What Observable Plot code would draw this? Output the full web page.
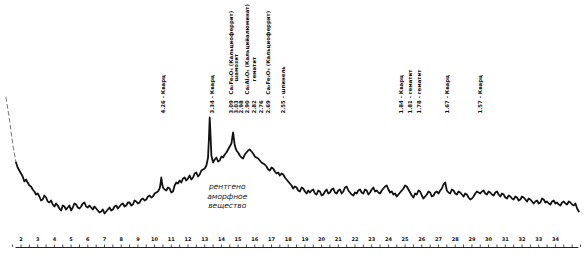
<!DOCTYPE html>
<html><head><meta charset="utf-8">
<script src="https://cdn.jsdelivr.net/npm/d3@7"></script>
<script src="https://cdn.jsdelivr.net/npm/@observablehq/plot@0.6"></script>
<style>body{margin:0;background:#fff}</style>
</head><body><div id="chart"></div>
<script>
// Diffraction angle θ (degrees) and relative intensity
const theta = [
1.1,1.3,1.5,1.7,1.8,1.9,2.0,2.1,2.2,2.3,
2.4,2.5,2.6,2.7,2.8,2.9,3.0,3.1,3.2,3.3,
3.4,3.5,3.6,3.7,3.8,3.9,4.0,4.1,4.2,4.3,
4.4,4.5,4.6,4.7,4.8,4.9,5.0,5.1,5.2,5.3,
5.4,5.5,5.6,5.7,5.8,5.9,6.0,6.1,6.2,6.3,
6.4,6.5,6.6,6.7,6.8,6.9,7.0,7.1,7.2,7.3,
7.4,7.5,7.6,7.7,7.8,7.9,8.0,8.1,8.2,8.3,
8.4,8.5,8.6,8.7,8.8,8.9,9.0,9.1,9.2,9.3,
9.4,9.5,9.6,9.7,9.8,9.9,10.0,10.1,10.2,10.3,
10.35,10.4,10.45,10.5,10.6,10.7,10.8,10.9,11.0,11.1,
11.2,11.3,11.4,11.5,11.6,11.7,11.8,11.9,12.0,12.1,
12.2,12.3,12.4,12.5,12.6,12.7,12.8,12.9,13.0,13.1,
13.2,13.25,13.3,13.35,13.4,13.5,13.6,13.7,13.8,13.9,
14.0,14.1,14.2,14.3,14.4,14.5,14.6,14.7,14.8,14.9,
15.0,15.1,15.2,15.3,15.4,15.5,15.6,15.7,15.8,15.9,
16.0,16.1,16.2,16.3,16.4,16.5,16.6,16.7,16.8,16.9,
17.0,17.1,17.2,17.3,17.4,17.5,17.6,17.7,17.8,17.9,
18.0,18.1,18.2,18.3,18.4,18.5,18.6,18.7,18.8,18.9,
19.0,19.1,19.2,19.3,19.4,19.5,19.6,19.7,19.8,19.9,
20.0,20.1,20.2,20.3,20.4,20.5,20.6,20.7,20.8,20.9,
21.0,21.1,21.2,21.3,21.4,21.5,21.6,21.7,21.8,21.9,
22.0,22.1,22.2,22.3,22.4,22.5,22.6,22.7,22.8,22.9,
23.0,23.1,23.2,23.3,23.4,23.5,23.6,23.7,23.8,23.9,
24.0,24.1,24.2,24.3,24.4,24.5,24.6,24.7,24.8,24.9,
25.0,25.1,25.2,25.3,25.4,25.5,25.6,25.7,25.8,25.9,
26.0,26.1,26.2,26.3,26.4,26.5,26.6,26.7,26.8,26.9,
27.0,27.1,27.2,27.3,27.4,27.5,27.6,27.7,27.8,27.9,
28.0,28.1,28.2,28.3,28.4,28.5,28.6,28.7,28.8,28.9,
29.0,29.1,29.2,29.3,29.4,29.5,29.6,29.7,29.8,29.9,
30.0,30.1,30.2,30.3,30.4,30.5,30.6,30.7,30.8,30.9,
31.0,31.1,31.2,31.3,31.4,31.5,31.6,31.7,31.8,31.9,
32.0,32.1,32.2,32.3,32.4,32.5,32.6,32.7,32.8,32.9,
33.0,33.1,33.2,33.3,33.4,33.5,33.6,33.7,33.8,33.9,
34.0,34.1,34.2,34.3,34.4,34.5,34.6,34.7,34.8,34.9,
35.0,35.1,35.2,35.3,35.4];
const intensity = [
150,129,104,85,80,77,74,71,66,68,
65,62,61,58,56,53,54,51,47,48,
52,50,46,45,47,43,41,44,42,39,
37,42,41,38,40,42,37,40,44,43,
40,39,41,44,45,41,40,42,40,38,
41,39,37,35,36,38,34,36,38,40,
37,38,41,42,39,41,43,44,41,42,
45,45,42,43,47,46,44,45,48,49,
47,48,51,52,50,51,54,55,56,59,
63,70,64,60,58,57,60,59,55,56,
62,65,64,67,65,69,70,67,69,72,
68,70,74,75,71,73,77,78,79,82,
90,108,130,112,92,85,88,90,86,87,
91,90,93,95,98,101,104,115,102,97,
95,92,90,89,93,95,97,98,96,94,
91,90,89,87,85,84,83,81,78,77,
80,79,76,74,75,72,74,73,70,68,
66,64,62,59,61,60,57,56,60,59,
56,54,57,55,57,58,54,53,57,56,
52,53,56,58,54,55,58,59,55,54,
57,58,54,56,60,61,57,55,53,52,
55,54,57,58,55,54,58,57,53,55,
58,60,56,57,55,54,57,59,61,62,
58,55,56,53,54,51,53,55,57,59,
62,61,58,55,52,50,54,53,57,56,
52,49,51,53,56,55,51,52,55,56,
54,57,59,63,65,57,55,54,58,57,
54,53,56,55,53,51,54,53,50,48,
49,51,54,56,55,54,56,57,54,53,
56,55,53,52,55,56,53,51,54,53,
50,49,52,51,49,48,51,50,47,48,
51,50,48,46,49,48,46,44,46,47,
44,45,49,48,45,46,44,43,46,47,
44,45,43,42,45,46,44,43,46,45,
43,42,44,39,36];

// Axis ticks
const tickLabels = [2,3,4,5,6,7,8,9,10,11,12,13,14,15,16,17,18,19,20,21,22,23,24,25,26,27,28,29,30,31,32,33,34];
const minorTicks = d3.range(1.5, 35.51, 0.5);
const axisExtent = [1.7, 35.4];

// Peak annotations (interplanar spacing, phase)
const peakTheta = [10.41, 13.30, 14.45, 14.75, 15.05, 15.45, 15.85, 16.25, 16.65, 17.55, 24.67, 25.20, 25.70, 27.40, 29.40];
const peakText = [
  "4.26 - Кварц",
  "3.34 - Кварц",
  "3.09   Ca₂Fe₂O₅ (Кальциоферрит)",
  "3.03          шамозит",
  "2.98",
  "2.90   Ca₂Al₂O₅ (Кальцийалюминат)",
  "2.82          гематит",
  "2.76",
  "2.69   Ca₂Fe₂O₅ (Кальциоферрит)",
  "2.55 - шпинель",
  "1.84 - Кварц",
  "1.81 - гематит",
  "1.78 - гематит",
  "1.67 - Кварц",
  "1.57 - Кварц"
];
const amorphousTheta = [14.35];
const amorphousText = ["рентгено\nаморфное\nвещество"];

const data = theta.map((t, i) => ({theta: t, intensity: intensity[i]}));
const lead = data.filter(d => d.theta <= 1.7);
const trace = data.filter(d => d.theta >= 1.7);
const peaks = peakTheta.map((t, i) => ({theta: t, text: peakText[i]}));
const amorph = amorphousTheta.map((t, i) => ({theta: t, text: amorphousText[i]}));

const chart = Plot.plot({
  width: 585, height: 255,
  marginTop: 0, marginBottom: 8, marginLeft: 0, marginRight: 0,
  x: {domain: [0.772, 35.802], axis: null},
  y: {domain: [0, 247], axis: null},
  style: {background: "#fff", fontFamily: "DejaVu Sans"},
  marks: [
    Plot.ruleY([0], {x1: axisExtent[0], x2: axisExtent[1], stroke: "#222", strokeWidth: 1}),
    Plot.ruleX(minorTicks, {x: d => d, y1: 0, y2: 2.5, stroke: "#222", strokeWidth: 0.8}),
    Plot.text(tickLabels, {x: d => d, y: 0, dy: -8, text: d => String(d), fontSize: 5, fontWeight: "bold", fill: "#111"}),
    Plot.line(lead, {x: "theta", y: "intensity", stroke: "#777", strokeWidth: 1, strokeDasharray: "4,3"}),
    Plot.line(trace, {x: "theta", y: "intensity", stroke: "#111", strokeWidth: 1.8, strokeLinejoin: "round"}),
    Plot.text(peaks, {x: "theta", frameAnchor: "top", dy: 113, text: "text", rotate: -90, textAnchor: "start", fontSize: 5.4, fontWeight: "bold", fill: "#111"}),
    Plot.text(amorph, {x: "theta", frameAnchor: "top", dy: 182, text: "text", fontSize: 7.5, fontStyle: "italic", fill: "#222", lineHeight: 1.25})
  ]
});
document.getElementById("chart").append(chart);
</script></body></html>
